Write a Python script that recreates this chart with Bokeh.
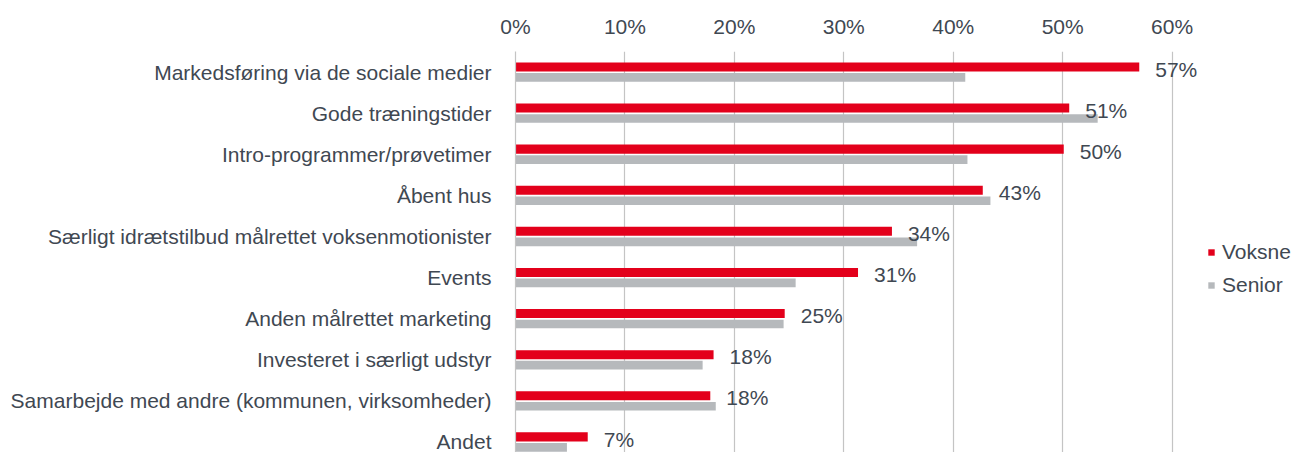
from bokeh.plotting import figure
from bokeh.models import (Range1d, LinearAxis, FixedTicker, Legend, LegendItem,
                          ColumnDataSource, Grid)
from bokeh.core.properties import value
from bokeh.embed import file_html
from bokeh.resources import INLINE

categories = [
    "Markedsføring via de sociale medier",
    "Gode træningstider",
    "Intro-programmer/prøvetimer",
    "Åbent hus",
    "Særligt idrætstilbud målrettet voksenmotionister",
    "Events",
    "Anden målrettet marketing",
    "Investeret i særligt udstyr",
    "Samarbejde med andre (kommunen, virksomheder)",
    "Andet",
]
voksne = [57.0, 50.6, 50.1, 42.7, 34.4, 31.3, 24.6, 18.1, 17.8, 6.6]
senior = [41.1, 53.2, 41.3, 43.4, 36.7, 25.6, 24.5, 17.1, 18.3, 4.7]
series_names = ["Voksne", "Senior"]
x_ticks = [0, 10, 20, 30, 40, 50, 60]

RED = "#E3001B"
GREY = "#B6B9BC"
TXT = "#3F4852"
GRID = "#C4C4C4"
FONT = "Liberation Sans"
FS = "21px"

n = len(categories)
pos = [i + 0.5 for i in range(n)]

src = ColumnDataSource(dict(
    pos=pos,
    pos_v=[p_ - 0.125 for p_ in pos],
    pos_s=[p_ + 0.13 for p_ in pos],
    voksne=voksne,
    senior=senior,
    lab=[f"{round(v)}%" for v in voksne],
))

W, H = 1304, 452
p = figure(width=W, height=H, output_backend="svg", toolbar_location=None,
           x_range=Range1d(0, 72.1), y_range=Range1d(9.755, 0),
           x_axis_location=None, y_axis_location=None,
           min_border_left=515, min_border_right=0, min_border_top=51,
           min_border_bottom=0)
p.outline_line_color = None
p.background_fill_color = "white"
p.border_fill_color = "white"

# top x axis
xa = LinearAxis(ticker=FixedTicker(ticks=x_ticks))
xa.major_label_overrides = {t: f"{t}%" for t in x_ticks}
xa.axis_line_color = None
xa.major_tick_line_color = None
xa.minor_tick_line_color = None
xa.major_label_standoff = 8
xa.major_label_text_font = FONT
xa.major_label_text_font_size = FS
xa.major_label_text_color = TXT
p.add_layout(xa, "above")

# left category axis
ya = LinearAxis(ticker=FixedTicker(ticks=pos))
ya.major_label_overrides = {pv: c for pv, c in zip(pos, categories)}
ya.axis_line_color = GRID
ya.axis_line_width = 1.2
ya.major_tick_line_color = None
ya.minor_tick_line_color = None
ya.major_label_standoff = 18
ya.major_label_text_font = FONT
ya.major_label_text_font_size = FS
ya.major_label_text_color = TXT
p.add_layout(ya, "left")

p.xgrid.visible = False
p.ygrid.visible = False
g = Grid(dimension=0, ticker=FixedTicker(ticks=x_ticks), grid_line_color=GRID,
         grid_line_width=1.2)
p.add_layout(g)

rv = p.hbar(y="pos_v", left=0, right="voksne", height=0.22, source=src,
            fill_color=RED, line_color=None)
rs = p.hbar(y="pos_s", left=0, right="senior", height=0.21, source=src,
            fill_color=GREY, line_color=None)

p.text(x="voksne", y="pos", text="lab", source=src, x_offset=16, y_offset=-3,
       text_align="left", text_baseline="middle", text_color=TXT,
       text_font=value(FONT), text_font_size=FS)

legend = Legend(items=[LegendItem(label=series_names[0], renderers=[rv]),
                       LegendItem(label=series_names[1], renderers=[rs])],
                location=(692, 155), orientation="vertical",
                glyph_width=8, glyph_height=8, label_standoff=7,
                label_height=20, spacing=9, padding=0, margin=0,
                border_line_color=None, background_fill_alpha=0,
                label_text_font=FONT, label_text_font_size=FS,
                label_text_color=TXT)
p.add_layout(legend)

open("out.html", "w").write(file_html(p, INLINE))
